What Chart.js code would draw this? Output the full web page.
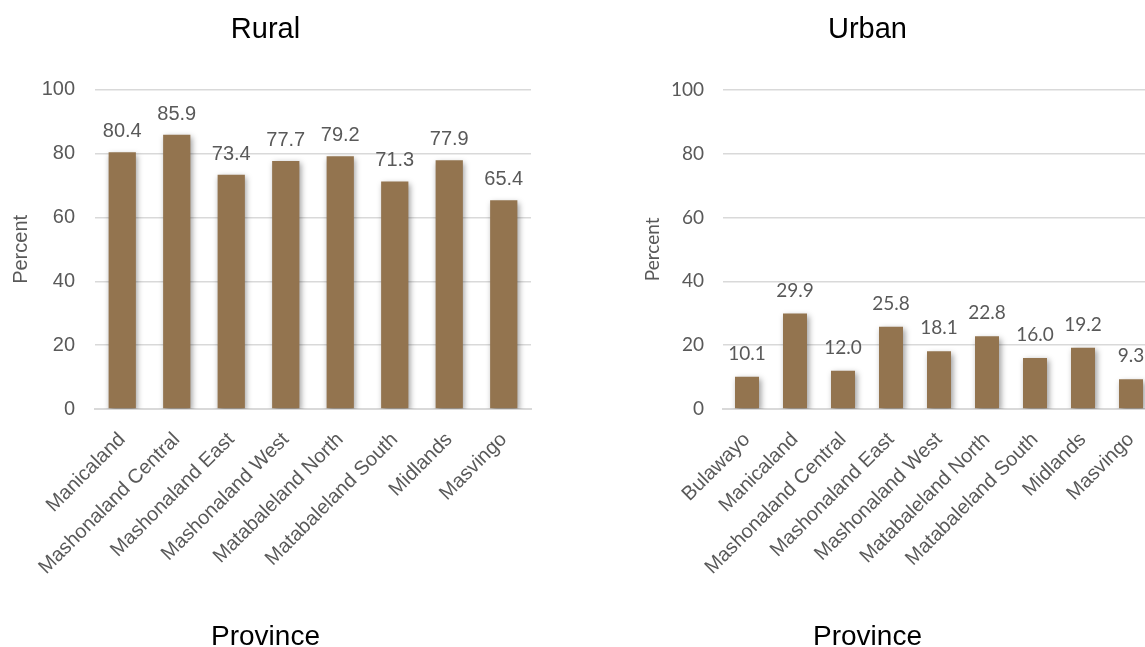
<!DOCTYPE html>
<html>
<head>
<meta charset="utf-8">
<title>Province bars</title>
<script src="https://cdn.jsdelivr.net/npm/chart.js@4.4.1/dist/chart.umd.min.js"></script>
<style>
  html, body { margin: 0; padding: 0; background: #fff; }
  #page { position: relative; width: 1145px; height: 647px; overflow: hidden; }
  #rural { position: absolute; left: 0; top: 0; }
  #urban { position: absolute; left: 580px; top: 0; }
</style>
</head>
<body>
<div id="page">
  <canvas id="rural" width="580" height="660"></canvas>
  <canvas id="urban" width="756" height="660"></canvas>
</div>
<script>
const ruralProvinces = ["Manicaland", "Mashonaland Central", "Mashonaland East", "Mashonaland West",
  "Matabaleland North", "Matabaleland South", "Midlands", "Masvingo"];
const ruralValues = [80.4, 85.9, 73.4, 77.7, 79.2, 71.3, 77.9, 65.4];

const urbanProvinces = ["Bulawayo", "Manicaland", "Mashonaland Central", "Mashonaland East", "Mashonaland West",
  "Matabaleland North", "Matabaleland South", "Midlands", "Masvingo"];
const urbanValues = [10.1, 29.9, 12.0, 25.8, 18.1, 22.8, 16.0, 19.2, 9.3];

const yMin = 0;
const yMax = 100;
const yStep = 20;

const barColor = "#93744f";
const textGrey = "#595959";
const gridGrey = "#d9d9d9";
const arial = "'Liberation Sans', Arial, sans-serif";
const lato = "Lato, 'Open Sans', sans-serif";

// soft drop shadow under the bars
const barShadow = {
  id: "barShadow",
  beforeDatasetsDraw(chart) {
    const ctx = chart.ctx;
    ctx.save();
    ctx.shadowColor = "rgba(0,0,0,0.4)";
    ctx.shadowBlur = 6;
    ctx.shadowOffsetX = 1.5;
    ctx.shadowOffsetY = 2.5;
  },
  afterDatasetsDraw(chart) {
    chart.ctx.restore();
  }
};

// value printed above each bar
function valueLabels(font, gap) {
  return {
    id: "valueLabels",
    afterDraw(chart) {
      const ctx = chart.ctx;
      const values = chart.data.datasets[0].data;
      ctx.save();
      ctx.font = font;
      ctx.fillStyle = textGrey;
      ctx.textAlign = "center";
      ctx.textBaseline = "alphabetic";
      chart.getDatasetMeta(0).data.forEach((bar, i) => {
        ctx.fillText(values[i].toFixed(1), bar.x, bar.y - gap);
      });
      ctx.restore();
    }
  };
}

function provinceChart(id, labels, values, cfg) {
  return new Chart(document.getElementById(id), {
    type: "bar",
    data: {
      labels: labels,
      datasets: [{
        data: values,
        backgroundColor: barColor,
        barPercentage: 0.5,
        categoryPercentage: 1
      }]
    },
    options: {
      responsive: false,
      animation: false,
      devicePixelRatio: 1,
      layout: { padding: { left: 0, right: cfg.rightPad, top: 0, bottom: 0 } },
      plugins: {
        legend: { display: false },
        tooltip: { enabled: false },
        title: {
          display: true,
          text: cfg.title,
          color: "#000",
          font: { family: arial, size: 29, weight: "normal" },
          padding: { top: 13, bottom: 42 }
        },
        subtitle: {
          display: true,
          position: "bottom",
          text: "Province",
          color: "#000",
          font: { family: arial, size: 28, weight: "normal" },
          padding: { top: 0, bottom: 6 }
        }
      },
      scales: {
        x: {
          grid: { display: false, drawTicks: false },
          border: { display: true, color: gridGrey, width: 2 },
          ticks: {
            color: textGrey,
            font: { family: arial, size: 20 },
            minRotation: 45,
            maxRotation: 45,
            autoSkip: false,
            padding: 19
          },
          afterFit: (scale) => { scale.height = 211.4; }
        },
        y: {
          min: yMin,
          max: yMax,
          ticks: {
            stepSize: yStep,
            color: textGrey,
            font: { family: cfg.numFamily, size: cfg.numSize },
            padding: cfg.tickPad
          },
          grid: { color: gridGrey, lineWidth: 1.5, drawTicks: false },
          border: { display: false },
          title: {
            display: true,
            text: "Percent",
            color: textGrey,
            font: { family: cfg.numFamily, size: cfg.percentSize },
            padding: { top: cfg.percentPad, bottom: 0 }
          },
          afterFit: (scale) => { scale.width = cfg.axisWidth; }
        }
      }
    },
    plugins: [barShadow, valueLabels(cfg.numSize + "px " + cfg.numFamily, cfg.labelGap)]
  });
}

provinceChart("rural", ruralProvinces, ruralValues, {
  title: "Rural",
  rightPad: 49,
  axisWidth: 95,
  tickPad: 20,
  numFamily: arial,
  numSize: 20,
  percentSize: 20,
  percentPad: 9,
  labelGap: 15
});

provinceChart("urban", urbanProvinces, urbanValues, {
  title: "Urban",
  rightPad: 181,
  axisWidth: 143,
  tickPad: 19,
  numFamily: lato,
  numSize: 19,
  percentSize: 19,
  percentPad: 61,
  labelGap: 17
});
</script>
</body>
</html>
